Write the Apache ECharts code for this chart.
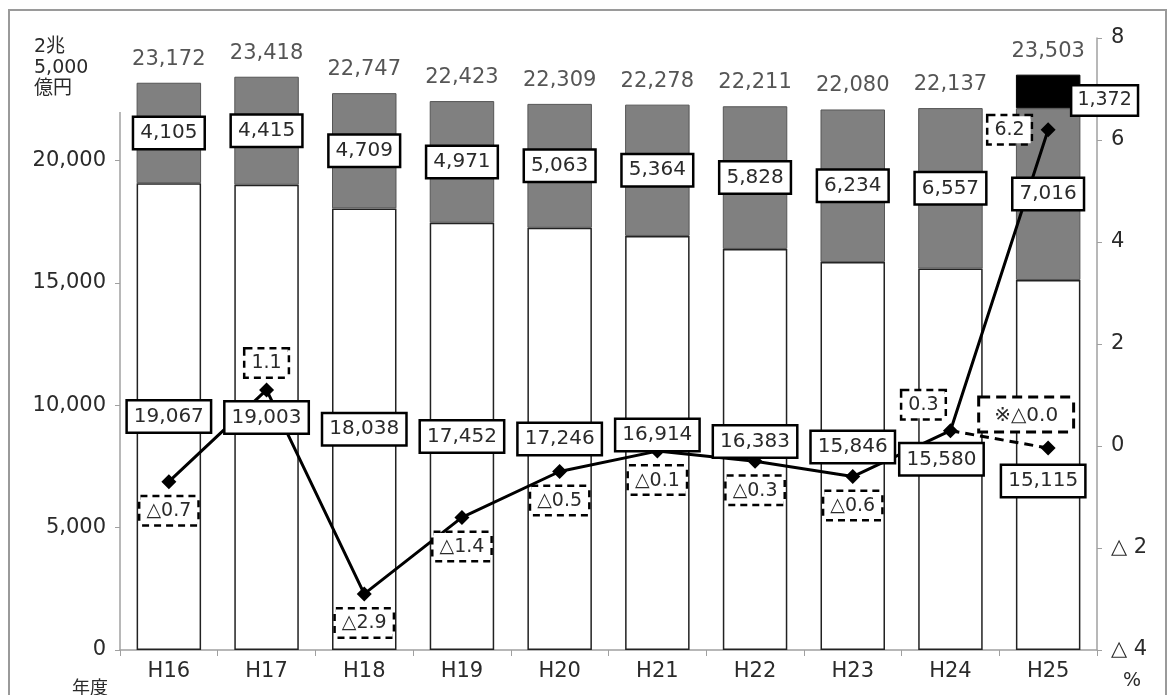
<!DOCTYPE html>
<html><head><meta charset="utf-8">
<script src="https://cdn.jsdelivr.net/npm/echarts@6/dist/echarts.min.js"></script>
<style>html,body{margin:0;padding:0;background:#fff}#c{width:1171px;height:695px}</style>
</head><body><div id="c"></div>
<script>
const categories = ['H16','H17','H18','H19','H20','H21','H22','H23','H24','H25'];
const baseValues = [19067,19003,18038,17452,17246,16914,16383,15846,15580,15115];
const midValues  = [4105,4415,4709,4971,5063,5364,5828,6234,6557,7016];
const topValues  = [null,null,null,null,null,null,null,null,null,1372];
const growthRate = [-0.7,1.1,-2.9,-1.4,-0.5,-0.1,-0.3,-0.6,0.3,6.2];
const growthAlt  = [null,null,null,null,null,null,null,null,0.3,-0.04];
const leftAxis = {min:0, max:25000, interval:5000};
const rightAxis = {min:-4, max:8, interval:2};

const totals = baseValues.map((v,i)=>v+midValues[i]+(topValues[i]||0));
const FONT = '"DejaVu Sans","Noto Sans CJK JP",sans-serif';
const TXT = '#2a2a2a';
const fmtNum = v => Number(v).toLocaleString('en-US');
const fmtPct = v => (v<0 ? '△' : '') + Math.abs(v).toFixed(1);

const solidBox = {show:true, fontFamily:FONT, fontSize:20, color:TXT, backgroundColor:'#fff',
  borderColor:'#000', borderWidth:2.5, padding:[4,6,2,6], lineHeight:24};
const dashBox = {show:true, fontFamily:FONT, fontSize:19, color:TXT, backgroundColor:'#fff',
  borderColor:'#000', borderWidth:2.5, borderType:[7,5], padding:[3,6,2,6], lineHeight:22};

// small manual tweaks of the white-segment labels, as in the reference
const baseLabelShift = {5:[0,-8], 6:[0,-8], 7:[0,-9], 8:[-9,0], 9:[-5,16]};
function lineLabel(i){
  if (i===1) return Object.assign({}, dashBox, {position:'top', distance:6});
  if (i===8) return Object.assign({}, dashBox, {position:'top', distance:5, offset:[-27,0]});
  if (i===9) return Object.assign({}, dashBox, {position:'left', distance:10});
  return Object.assign({}, dashBox, {position:'bottom', distance:8});
}

const chart = echarts.init(document.getElementById('c'));
const clear = 'rgba(0,0,0,0)';
chart.setOption({
  animation:false,
  grid:{left:120, right:74, top:38, bottom:45, containLabel:false},
  xAxis:{type:'category', data:categories,
    axisLine:{lineStyle:{color:'#a0a0a0', width:1.5}},
    axisTick:{show:true, length:6, lineStyle:{color:'#a0a0a0'}},
    axisLabel:{fontFamily:FONT, fontSize:21, color:TXT, margin:11}},
  yAxis:[
    {type:'value', min:leftAxis.min, max:leftAxis.max, interval:leftAxis.interval,
     splitLine:{show:false},
     axisLine:{show:true, lineStyle:{color:'#a0a0a0', width:1.5}},
     axisTick:{show:true, length:5, lineStyle:{color:'#a0a0a0'}},
     axisLabel:{fontFamily:FONT, fontSize:21, color:TXT, margin:14, formatter:v=>fmtNum(v)}},
    {type:'value', min:rightAxis.min, max:rightAxis.max, interval:rightAxis.interval,
     splitLine:{show:false},
     axisLine:{show:true, lineStyle:{color:'#a0a0a0', width:1.5}},
     axisTick:{show:true, length:5, lineStyle:{color:'#a0a0a0'}},
     axisLabel:{fontFamily:FONT, fontSize:21, color:TXT, margin:14,
       formatter:v=> v<0 ? '△ '+(-v) : String(v)}}
  ],
  series:[
    {type:'bar', stack:'a', barWidth:'66%', z:2, data:baseValues,
     itemStyle:{color:'#fff', borderColor:'#222', borderWidth:1.5}},
    {type:'bar', stack:'a', barWidth:'66%', z:2, data:midValues,
     itemStyle:{color:'#808080', borderColor:'#555', borderWidth:1}},
    {type:'bar', stack:'a', barWidth:'66%', z:2, data:topValues,
     itemStyle:{color:'#000', borderColor:'#000', borderWidth:1}},
    // label overlays (drawn above the line)
    {type:'bar', stack:'b', barWidth:'66%', barGap:'-100%', z:10, silent:true,
     data:baseValues.map((v,i)=>({value:v, label:Object.assign({}, solidBox,
        {position:'inside', offset:baseLabelShift[i]||[0,0]})})),
     itemStyle:{color:clear}, label:{formatter:p=>fmtNum(p.value)}},
    {type:'bar', stack:'b', barWidth:'66%', barGap:'-100%', z:10, silent:true,
     data:midValues, itemStyle:{color:clear},
     label:Object.assign({}, solidBox, {position:'inside', formatter:p=>fmtNum(p.value)})},
    {type:'bar', stack:'b', barWidth:'66%', barGap:'-100%', z:10, silent:true,
     data:topValues, itemStyle:{color:clear},
     label:Object.assign({}, solidBox, {position:'right', distance:-8, offset:[0,9],
       fontSize:19, padding:[3,5,1,5], formatter:p=>fmtNum(p.value)})},
    {type:'line', yAxisIndex:1, z:6,
     data:growthRate.map((v,i)=>({value:v, label:lineLabel(i)})),
     symbol:'diamond', symbolSize:15, itemStyle:{color:'#000'},
     lineStyle:{color:'#000', width:3},
     label:{formatter:p=>fmtPct(p.value)}},
    {type:'line', yAxisIndex:1, z:5,
     data:growthAlt.map((v,i)=> i===9
       ? {value:v, label:Object.assign({}, dashBox, {show:true, position:'top', distance:10, offset:[-22,0],
           fontSize:20, borderWidth:3, borderType:[10,6], padding:[6,14,4,14]})}
       : {value:v, symbol:'none'}),
     symbol:'diamond', symbolSize:15, itemStyle:{color:'#000'},
     lineStyle:{color:'#000', width:3, type:[9,6]},
     label:{show:false, formatter:p=>'※' + fmtPct(p.value)}},
    {type:'scatter', yAxisIndex:0, z:7, symbolSize:0, silent:true,
     data:totals,
     label:{show:true, position:'top', distance:13, fontFamily:FONT, fontSize:21, color:TXT,
       formatter:p=>fmtNum(p.value)}}
  ],
  graphic:[
    {type:'rect', z:100, shape:{x:15, y:16, width:110, height:96}, style:{fill:'#fff'}},
    {type:'text', z:101, left:34, top:37, style:{text:'2兆\n5,000\n億円', font:'19px '+FONT, fill:TXT, lineHeight:21}},
    {type:'text', z:101, left:72, top:678, style:{text:'年度', font:'18px "Noto Sans CJK JP",sans-serif', fill:TXT}},
    {type:'text', z:101, left:1123, top:672, style:{text:'%', font:'19px '+FONT, fill:TXT}},
    {type:'rect', z:102, shape:{x:9, y:10, width:1157, height:700}, style:{fill:'none', stroke:'#9a9a9a', lineWidth:2}}
  ]
});
</script></body></html>
